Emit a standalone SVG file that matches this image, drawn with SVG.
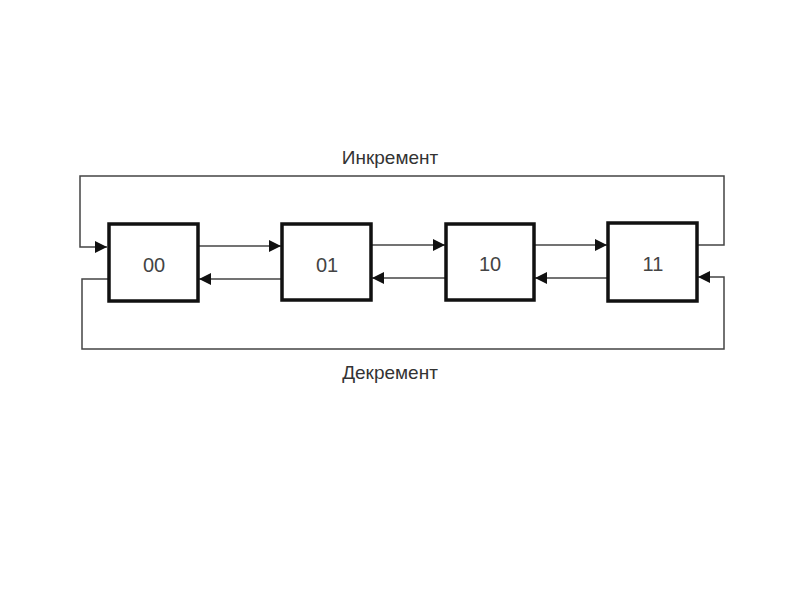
<svg xmlns="http://www.w3.org/2000/svg" width="800" height="600" viewBox="0 0 800 600">
<style>
.box{fill:#fff;stroke:#111;stroke-width:3.5}
.lbl{font-family:"Liberation Sans",Arial,sans-serif;font-size:20px;fill:#444;text-anchor:middle}
.cap{font-family:"Liberation Sans",Arial,sans-serif;font-size:19px;fill:#333;text-anchor:middle}
.ln{fill:none;stroke:#444;stroke-width:1.5}
</style>
<defs>
<marker id="ah" viewBox="0 0 12 12" refX="12" refY="6" markerWidth="12" markerHeight="12" markerUnits="userSpaceOnUse" orient="auto">
<path d="M0,0 L12,6 L0,12 Z" fill="#111"/>
</marker>
</defs>
<rect width="800" height="600" fill="#fff"/>
<g id="connectors">
<path class="ln" d="M198,246 H281" marker-end="url(#ah)"/>
<path class="ln" d="M371,245 H445" marker-end="url(#ah)"/>
<path class="ln" d="M534,245 H607" marker-end="url(#ah)"/>
<path class="ln" d="M282,279 H199" marker-end="url(#ah)"/>
<path class="ln" d="M446,278 H372" marker-end="url(#ah)"/>
<path class="ln" d="M608,278 H535" marker-end="url(#ah)"/>
<path class="ln" d="M697,245 H724 V176 H80 V247 H107" marker-end="url(#ah)"/>
<path class="ln" d="M108,279 H82 V349 H724 V277 H698" marker-end="url(#ah)"/>
</g>
<g id="n00"><rect class="box" x="109" y="224" width="89" height="77"/><text class="lbl" x="154" y="272">00</text></g>
<g id="n01"><rect class="box" x="282" y="224" width="89" height="76"/><text class="lbl" x="327" y="272">01</text></g>
<g id="n10"><rect class="box" x="446" y="224" width="88" height="76"/><text class="lbl" x="490" y="271">10</text></g>
<g id="n11"><rect class="box" x="608" y="223" width="89" height="78"/><text class="lbl" x="653" y="271">11</text></g>
<g id="labels">
<text class="cap" x="390" y="164">Инкремент</text>
<text class="cap" x="390" y="379">Декремент</text>
</g>
</svg>
